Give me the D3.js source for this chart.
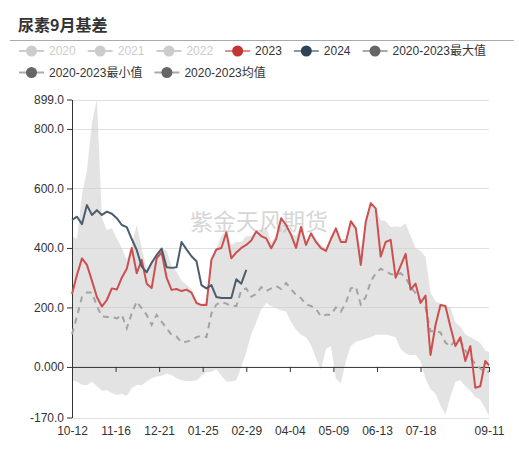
<!DOCTYPE html>
<html>
<head>
<meta charset="utf-8">
<script src="https://cdn.jsdelivr.net/npm/d3@7"></script>
<style>
  body { margin: 0; background: #fff; }
  svg { display: block; font-family: "Liberation Sans", "Noto Sans CJK SC", sans-serif; }
</style>
</head>
<body>
<div id="chart"></div>
<script>
// dates (MM-DD), Oct-Dec are 2023, the rest 2024
const dates = [
  "10-12","10-16","10-20","10-24","10-28",
  "11-01","11-05","11-09","11-13","11-17","11-21","11-25","11-29",
  "12-03","12-07","12-11","12-15","12-19","12-23","12-27","12-31",
  "01-04","01-08","01-12","01-16","01-20","01-24","01-28",
  "02-01","02-05","02-09","02-13","02-17","02-21","02-25","02-29",
  "03-04","03-08","03-12","03-16","03-20","03-24","03-28",
  "04-01","04-05","04-09","04-13","04-17","04-21","04-25","04-29",
  "05-03","05-07","05-11","05-15","05-19","05-23","05-27","05-31",
  "06-04","06-08","06-12","06-16","06-20","06-24","06-28",
  "07-02","07-06","07-10","07-14","07-18","07-22","07-26","07-30",
  "08-03","08-07","08-11","08-15","08-19","08-23","08-27","08-31",
  "09-04","09-08","09-11"
];

const maxValues = [
  440, 430, 580, 660, 820, 899, 500, 460, 466, 432,
  400, 360, 410, 477, 400, 330, 354, 376, 399, 390,
  340, 320, 290, 275, 262, 220, 212, 222, 360, 400,
  440, 460, 410, 420, 420, 440, 440, 460, 460, 470,
  420, 440, 500, 477, 450, 440, 480, 420, 450, 430,
  410, 400, 430, 466, 430, 430, 490, 466, 400, 490,
  556, 533, 494, 490, 470, 472, 470, 483, 440, 400,
  390, 370, 250, 220, 214, 205, 200, 150, 135, 110,
  100, 91, 80, 55, 50
];

const minValues = [
  -45, -50, -60, -62, -50, -65, -80, -78, -88, -94,
  -90, -98, -72, -60, -62, -49, -38, -32, -30, -22,
  -27, -38, -45, -47, -47, -45, -30, -18, -16, -8,
  -30, -49, -49, -45, 0, 50, 110, 150, 192, 215,
  205, 197, 190, 186, 150, 125, 108, 100, 74, 30,
  -10, 60, 70, -40, -55, 20, 70, 85, 90, 95,
  100, 108, 108, 108, 105, 100, 60, 45, 40, 40,
  20, -40, -75, -90, -130, -160, -100, -50, -45, -65,
  -80, -100, -110, -140, -165
];

const meanValues = [
  110, 170, 235, 250, 250, 205, 170, 168, 168, 163,
  175, 130, 180, 220, 197, 175, 141, 175, 152, 130,
  108, 102, 82, 85, 90, 100, 105, 100, 180, 210,
  218, 213, 205, 205, 258, 264, 236, 245, 268, 255,
  264, 272, 262, 282, 262, 242, 231, 210, 205, 195,
  170, 175, 175, 200, 186, 215, 264, 270, 210, 235,
  287, 315, 330, 322, 312, 310, 315, 300, 270, 248,
  222, 200, 120, 120, 116, 82, 68, 92, 88, 55,
  32, 10, -5, -18, -16
];

const values2023 = [
  245, 309, 365, 343, 290, 235, 203, 225, 264, 260,
  300, 330, 400, 315, 360, 280, 265, 365, 385, 300,
  259, 262, 255, 260, 250, 215, 208, 208, 360, 395,
  400, 452, 365, 385, 400, 410, 425, 455, 440, 432,
  399, 430, 500, 477, 444, 400, 470, 410, 449, 420,
  399, 390, 430, 466, 420, 420, 490, 466, 343, 488,
  550, 533, 371, 420, 427, 300, 340, 380, 260, 280,
  215, 240, 40, 140, 208, 205, 135, 70, 100, 20,
  70, -70, -65, 20, 5
];

const values2024 = [
  494, 505, 480, 544, 511, 527, 511, 522, 515, 500,
  477, 470, 430, 393, 337, 318, 350, 376, 398, 335,
  333, 335, 420, 395, 372, 355, 275, 264, 275, 235,
  232, 232, 232, 295, 280, 326
];

const yTicks = [899, 800, 600, 400, 200, 0, -170];
const yTickLabels = ["899.0", "800.0", "600.0", "400.0", "200.0", "0.000", "-170.0"];
const xTickLabels = ["10-12", "11-16", "12-21", "01-25", "02-29", "04-04", "05-09", "06-13", "07-18", "09-11"];

const legendNames = ["2020", "2021", "2022", "2023", "2024", "2020-2023最大值", "2020-2023最小值", "2020-2023均值"];
const legendColors = ["#ccc", "#ccc", "#ccc", "#c23531", "#2f4554", "#666", "#666", "#666"];
const legendActive = [false, false, false, true, true, true, true, true];

function parseDate(s) {
  const m = +s.slice(0, 2), d = +s.slice(3, 5);
  return new Date(m >= 10 ? 2023 : 2024, m - 1, d);
}

const width = 519, height = 460;
const svg = d3.select("#chart").append("svg")
  .attr("width", width)
  .attr("height", height);

// title
svg.append("text")
  .attr("x", 18).attr("y", 31)
  .attr("font-family", "'Noto Sans CJK SC', sans-serif")
  .attr("font-size", 16).attr("font-weight", "bold")
  .attr("fill", "#333")
  .text("尿素9月基差");

svg.append("line")
  .attr("x1", 10).attr("x2", 514)
  .attr("y1", 40.5).attr("y2", 40.5)
  .attr("stroke", "#aaa");

// legend, laid out as a flowing row
const legend = svg.append("g");
let lx = 19, ly = 51;
legendNames.forEach((name, i) => {
  const g = legend.append("g");
  const c = legendColors[i];
  g.append("line")
    .attr("x1", 0).attr("x2", 25).attr("y1", 0).attr("y2", 0)
    .attr("stroke", c).attr("stroke-width", 2)
    .attr("opacity", legendActive[i] ? 0.55 : 1);
  g.append("circle").attr("cx", 12.5).attr("cy", 0).attr("r", 5.5).attr("fill", c);
  const t = g.append("text")
    .attr("x", 30).attr("y", 0).attr("dy", "0.35em")
    .attr("font-size", 12)
    .attr("fill", legendActive[i] ? "#333" : "#ccc")
    .text(name);
  const w = 30 + t.node().getComputedTextLength();
  if (lx + w > 505) { lx = 19; ly += 21.5; }
  g.attr("transform", `translate(${lx},${ly})`);
  lx += w + 12;
});

// scales
const x = d3.scaleTime()
  .domain([parseDate(dates[0]), parseDate(dates[dates.length - 1])])
  .range([72, 489]);
const y = d3.scaleLinear().domain([-170, 899]).range([417.5, 99.5]);

// grid lines
svg.append("g").selectAll("line")
  .data(yTicks.filter(d => d !== 0))
  .enter().append("line")
  .attr("x1", 72).attr("x2", 489)
  .attr("y1", d => Math.round(y(d)) + 0.5).attr("y2", d => Math.round(y(d)) + 0.5)
  .attr("stroke", "#e0e0e0");

const rows = dates.map((d, i) => ({
  date: parseDate(d), max: maxValues[i], min: minValues[i],
  mean: meanValues[i], v23: values2023[i], v24: values2024[i]
}));

// max/min band
const area = d3.area()
  .x(d => x(d.date))
  .y0(d => y(d.min))
  .y1(d => y(d.max));
svg.append("path").datum(rows)
  .attr("d", area)
  .attr("fill", "#ccc").attr("opacity", 0.55);

// watermark
svg.append("text")
  .attr("x", 259).attr("y", 230)
  .attr("text-anchor", "middle")
  .attr("font-family", "'Noto Sans CJK SC', sans-serif")
  .attr("font-size", 23)
  .attr("fill", "#bbb").attr("opacity", 0.6)
  .text("紫金天风期货");

// axes
const yAxis = svg.append("g")
  .attr("transform", "translate(72,0)")
  .call(d3.axisLeft(y).tickValues(yTicks).tickFormat((d, i) => yTickLabels[i]).tickSize(5).tickSizeOuter(0));
yAxis.select(".domain").attr("stroke", "#333");
yAxis.selectAll(".tick line").attr("stroke", "#333");
yAxis.selectAll("text").attr("font-size", 12).attr("fill", "#333").attr("font-family", null);

const x0 = y(0);
const xAxis = svg.append("g")
  .attr("transform", `translate(0,${x0})`)
  .call(d3.axisBottom(x).tickValues(xTickLabels.map(parseDate))
    .tickFormat((d, i) => xTickLabels[i]).tickSize(5).tickSizeOuter(0));
xAxis.select(".domain").attr("stroke", "#333");
xAxis.selectAll(".tick line").attr("stroke", "#333");
xAxis.selectAll("text")
  .attr("y", 426 - x0).attr("dy", "0.71em")
  .attr("font-size", 12).attr("fill", "#333").attr("font-family", null);

// lines
const lineOf = key => d3.line()
  .defined(d => d[key] !== undefined)
  .x(d => x(d.date))
  .y(d => y(d[key]));

svg.append("path").datum(rows)
  .attr("d", lineOf("mean"))
  .attr("fill", "none").attr("stroke", "#a3a3a3")
  .attr("stroke-width", 2).attr("stroke-dasharray", "6,5");

svg.append("path").datum(rows)
  .attr("d", lineOf("v23"))
  .attr("fill", "none").attr("stroke", "#cd4f4f")
  .attr("stroke-width", 2).attr("stroke-linejoin", "round");

svg.append("path").datum(rows.filter(d => d.v24 !== undefined))
  .attr("d", lineOf("v24"))
  .attr("fill", "none").attr("stroke", "#4b5d6d")
  .attr("stroke-width", 2).attr("stroke-linejoin", "round");
</script>
</body>
</html>
